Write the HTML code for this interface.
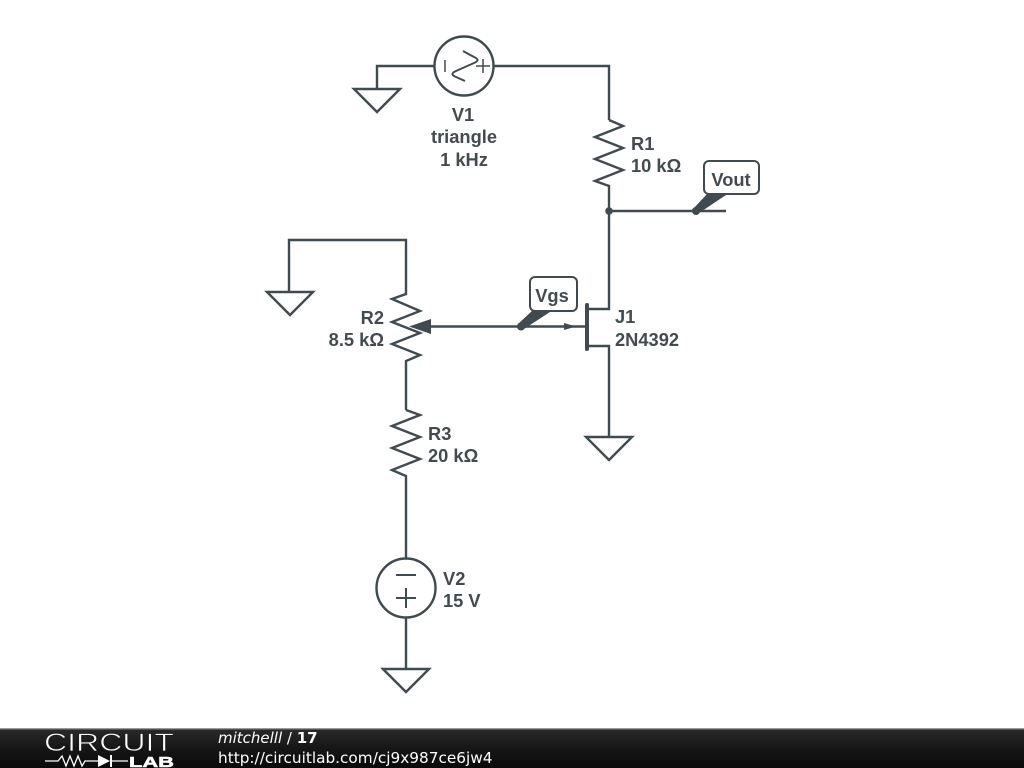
<!DOCTYPE html>
<html>
<head>
<meta charset="utf-8">
<style>
html,body{margin:0;padding:0;background:#fff;width:1024px;height:768px;overflow:hidden}
svg{display:block;position:absolute;left:0;top:0}
.t{font-family:"Liberation Sans",sans-serif;font-weight:700;font-size:18.3px;fill:#434b4f}
.f{font-family:"DejaVu Sans",sans-serif;font-size:15.3px;fill:#fff}
</style>
</head>
<body>
<svg width="1024" height="768" viewBox="0 0 1024 768" xmlns="http://www.w3.org/2000/svg">
<defs>
<linearGradient id="g" x1="0" y1="0" x2="0" y2="1">
<stop offset="0" stop-color="#2a2a2a"/><stop offset="0.5" stop-color="#161616"/><stop offset="1" stop-color="#0a0a0a"/>
</linearGradient>
</defs>
<g fill="none" stroke="#414a4e" stroke-width="2.4" stroke-linejoin="miter">
<!-- V1 -->
<circle cx="464" cy="66" r="29.5"/>
<path d="M435 66H377V89"/>
<path d="M354 89H400L377 112Z"/>
<path d="M494 66H609V120"/>
<path d="M445 60V72" stroke-width="1.5"/>
<path d="M483 59V73M476 66H490" stroke-width="1.5"/>
<path d="M463 51L474 57Q481 60 474 63L456 71Q449 74 456 77L465 81" stroke-width="2"/>
<!-- R1 -->
<path d="M609 120L623 126L595 137L623 148L595 159L623 170L595 181L609 186V309H587"/>
<path d="M609 211H726"/>
<!-- J1 -->
<path d="M587 305V349" stroke-width="4" stroke-linecap="round"/>
<path d="M587 346H609V437"/>
<path d="M586 437H632L609 460Z"/>
<!-- R2 -->
<path d="M289 292V240H406V294L392 299L420 311L392 322L420 333L392 344L420 355L406 361V410"/>
<path d="M267 292H313L290 315Z"/>
<!-- R3 -->
<path d="M406 410L420 415L392 426L420 437L392 448L420 459L392 470L406 476V559"/>
<!-- V2 -->
<circle cx="406" cy="588" r="29.5"/>
<path d="M396 575H416M396 598H416M406 588V608" stroke-width="2"/>
<path d="M406 618V669"/>
<path d="M383 669H429L406 692Z"/>
<!-- gate wire -->
<path d="M425 326.5H587"/>
</g>
<g fill="#414a4e" stroke="none">
<circle cx="609" cy="211" r="3.8"/>
<circle cx="696" cy="211" r="4"/>
<circle cx="521" cy="326.5" r="4"/>
<path d="M409 326.5L431 319V334Z"/>
<path d="M564 323L576 326.5L564 330Z"/>
<path d="M693 209L708 193H729L699 213Z"/>
<path d="M518 324L533 310H553L524 329Z"/>
</g>
<g fill="#fff" stroke="#414a4e" stroke-width="2">
<rect x="704" y="161" width="55" height="33" rx="5"/>
<rect x="530" y="277" width="47" height="34" rx="5"/>
</g>
<g class="t">
<text class="t" x="463" y="121" text-anchor="middle">V1</text>
<text class="t" x="464" y="143" text-anchor="middle">triangle</text>
<text class="t" x="464" y="166" text-anchor="middle">1 kHz</text>
<text class="t" x="631" y="150">R1</text>
<text class="t" x="631" y="172">10 kΩ</text>
<text class="t" x="731" y="186" text-anchor="middle">Vout</text>
<text class="t" x="552" y="302" text-anchor="middle">Vgs</text>
<text class="t" x="615" y="323">J1</text>
<text class="t" x="615" y="346">2N4392</text>
<text class="t" x="384" y="324" text-anchor="end">R2</text>
<text class="t" x="384" y="346" text-anchor="end">8.5 kΩ</text>
<text class="t" x="428" y="440">R3</text>
<text class="t" x="428" y="462">20 kΩ</text>
<text class="t" x="443" y="585">V2</text>
<text class="t" x="443" y="607">15 V</text>
</g>
<!-- Footer -->
<rect x="0" y="729" width="1024" height="39" fill="url(#g)"/>
<rect x="0" y="728" width="1024" height="1.4" fill="#9a9a9a"/>
<text x="44" y="751" font-family="'Liberation Sans',sans-serif" font-size="25" fill="#fff" stroke="#1c1c1c" stroke-width="0.7" textLength="130" lengthAdjust="spacingAndGlyphs">CIRCUIT</text>
<g fill="none" stroke="#fff" stroke-width="1.3">
<path d="M45 761H58L62 756L66 766L70 756L74 766L78 756L82 766L85 761H98M110 761H128"/>
<path d="M111 755V767" stroke-width="2"/>
</g>
<path d="M98 755L110 761L98 767Z" fill="#fff"/>
<text x="129" y="767" font-family="'Liberation Sans',sans-serif" font-weight="700" font-size="15" fill="#fff" stroke="#fff" stroke-width="0.5" textLength="45" lengthAdjust="spacingAndGlyphs">LAB</text>
<text class="f" x="218" y="743" style="font-size:15px"><tspan font-style="italic">mitchelll</tspan> / <tspan font-weight="700">17</tspan></text>
<text class="f" x="218" y="763">http://circuitlab.com/cj9x987ce6jw4</text>
</svg>
</body>
</html>
